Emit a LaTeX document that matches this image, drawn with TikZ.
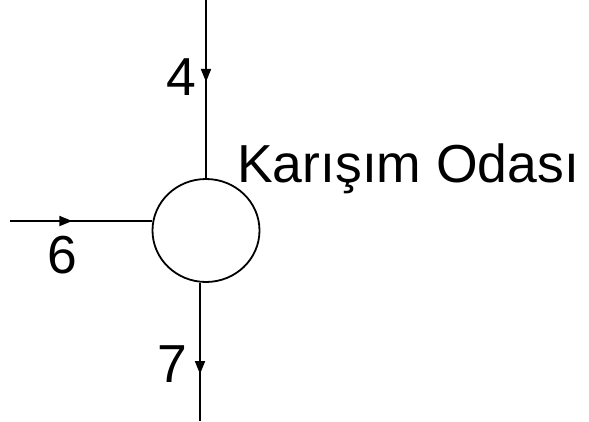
\documentclass[tikz,border=0pt]{standalone}
\usepackage{fontspec}
\setmainfont{Liberation Sans}
\usetikzlibrary{arrows.meta, shapes.geometric, decorations.markings}
\tikzset{chamber/.style = {shape = ellipse, draw, line width = 1.8pt, minimum width = 107pt, minimum height = 103pt, inner sep = 0pt}}
\tikzset{flow/.style = {line width = 1.8pt, postaction = {decorate}, decoration = {markings, mark = at position #1 with {\arrow{Triangle[length = 13pt, width = 10pt]}}}}}
\tikzset{lbl/.style = {font = \fontsize{53.5}{60}\selectfont, inner sep = 0pt}}

\begin{document}
\begin{tikzpicture}[x = 1pt, y = -1pt]
				\useasboundingbox (0, 0) rectangle (589, 421);
				\node[chamber] (mix) at (206, 230.5) {};
				\coordinate (in4) at (206, 0);
				\coordinate (in6) at (10, 221);
				\coordinate (out7) at (200, 421);

				\draw[flow = 0.46] (in4) to (in4 |- mix.north);
				\draw[flow = 0.44] (in6) to (mix.west |- in6);
				\draw[flow = 0.66] (out7 |- mix.south) to (out7);

				\node[lbl] (l4) at (181, 77) {4};
				\node[lbl] (l6) at (62, 255) {6};
				\node[lbl] (l7) at (172, 364) {7};
				\node[lbl, anchor = base west] (name) at (237, 182) {Karışım Odası};
			\end{tikzpicture}
\end{document}
